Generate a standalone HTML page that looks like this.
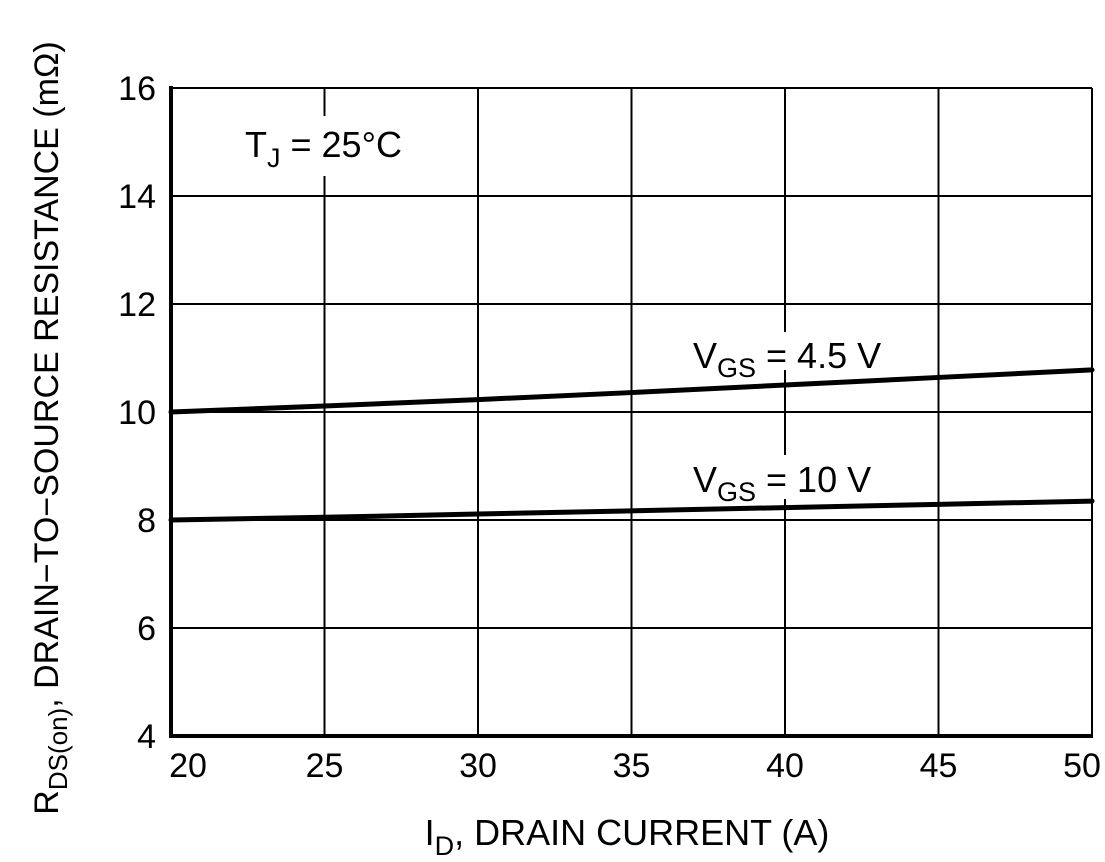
<!DOCTYPE html>
<html><head><meta charset="utf-8"><style>
body{margin:0;background:#fff}
svg{display:block;font-family:"Liberation Sans",Arial,sans-serif}
</style></head><body>
<svg width="1105" height="862" viewBox="0 0 1105 862">
<g id="grid"></g>
<g id="series"></g>
<g id="ticks" font-size="34" fill="#000"></g>
<rect x="235" y="116" width="185" height="60" fill="#fff"/>
<text x="245" y="157" font-size="36">T<tspan font-size="27" dy="10">J</tspan><tspan dy="-10"> = 25°C</tspan></text>
<rect x="688" y="332" width="200" height="38" fill="#fff"/>
<text x="693" y="368" font-size="36">V<tspan font-size="27" dy="9">GS</tspan><tspan dy="-9"> = 4.5 V</tspan></text>
<rect x="688" y="455" width="195" height="44" fill="#fff"/>
<text x="693" y="492" font-size="36">V<tspan font-size="27" dy="9">GS</tspan><tspan dy="-9"> = 10 V</tspan></text>
<text x="627" y="845" font-size="36" text-anchor="middle">I<tspan font-size="27" dy="10">D</tspan><tspan dy="-10">, DRAIN CURRENT (A)</tspan></text>
<text transform="translate(58,428) rotate(-90)" font-size="34" text-anchor="middle">R<tspan font-size="26" dy="9">DS(on)</tspan><tspan dy="-9">, DRAIN−TO−SOURCE RESISTANCE (mΩ)</tspan></text>
<g id="frame"></g>
</svg>
<script>
const xTicks=[20,25,30,35,40,45,50];
const yTicks=[4,6,8,10,12,14,16];
const currents=[20,25,30,35,40,45,50];
const r45=[10.0,10.11,10.23,10.36,10.5,10.64,10.78];
const r10=[8.0,8.05,8.11,8.17,8.23,8.29,8.35];
const NS='http://www.w3.org/2000/svg';
const X0=171,X1=1092,Y0=736,Y1=88;
const xs=v=>X0+(v-20)/30*(X1-X0);
const ys=v=>Y0-(v-4)/12*(Y0-Y1);
function mk(t,a,p){const e=document.createElementNS(NS,t);for(const k in a)e.setAttribute(k,a[k]);p.appendChild(e);return e;}
const grid=document.getElementById('grid'),ticks=document.getElementById('ticks'),ser=document.getElementById('series'),frame=document.getElementById('frame');
xTicks.forEach((v,i)=>{
 const l=mk('line',{x1:xs(v),x2:xs(v),y1:Y1,y2:Y0,stroke:'#000','stroke-width':2},grid);
 
 
 let tx=xs(v);if(i===0)tx+=17;if(i===xTicks.length-1)tx-=10;
 const t=mk('text',{x:tx,y:777,'text-anchor':'middle'},ticks);t.textContent=v;
 
 
});
yTicks.forEach(v=>{
 const l=mk('line',{x1:X0,x2:X1,y1:ys(v),y2:ys(v),stroke:'#000','stroke-width':2},grid);
 
 
 const t=mk('text',{x:156,y:ys(v)+12,'text-anchor':'end'},ticks);t.textContent=v;
 
 
});
[[r45,'series-vgs-4.5'],[r10,'series-vgs-10']].forEach(([d,n])=>{
 const p=mk('polyline',{points:currents.map((c,i)=>xs(c)+','+ys(d[i])).join(' '),fill:'none',stroke:'#000','stroke-width':5,'stroke-linecap':'round'},ser);
 
 
});
const la=mk('line',{x1:X0,x2:X0,y1:Y1-2,y2:Y0+2,stroke:'#000','stroke-width':4},frame);


const ba=mk('line',{x1:X0-2,x2:X1+1,y1:Y0,y2:Y0,stroke:'#000','stroke-width':4},frame);


</script>
</body></html>
